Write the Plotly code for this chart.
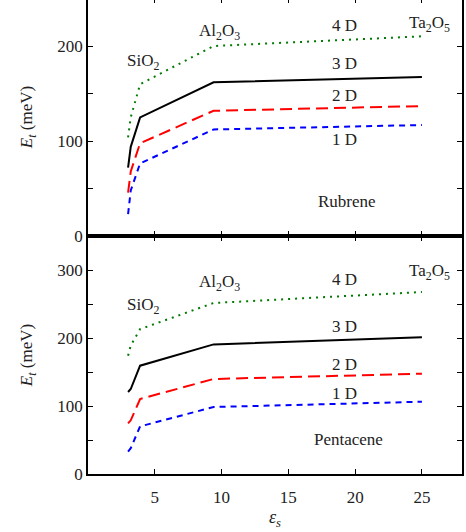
import plotly.graph_objects as go

eps = [3.0, 3.2, 3.9, 9.4, 25.0]

rub_1D = [23, 48, 76.5, 112.3, 117]
rub_2D = [45.6, 68, 97.8, 132, 137]
rub_3D = [72, 94, 125, 162, 167.5]
rub_4D = [104, 125, 160, 200.3, 210.5]

pen_1D = [33, 38, 70, 98.5, 106.3]
pen_2D = [74.4, 79, 110.3, 139.7, 147.5]
pen_3D = [120.6, 125, 159.3, 190.6, 201]
pen_4D = [174, 189, 213, 251.5, 267.6]

series_names = ["1 D", "2 D", "3 D", "4 D"]
colors = ["#0000ff", "#ff0000", "#000000", "#007a00"]
dashes = ["6px,5px", "12px,6px", "solid", "2px,5px"]

FONT = "Liberation Serif, Times New Roman, serif"
TXT = "#222"

fig = go.Figure()

for vals, c, d, n in zip([rub_1D, rub_2D, rub_3D, rub_4D], colors, dashes, series_names):
    fig.add_trace(go.Scatter(x=eps, y=vals, mode="lines", name=n,
                             line=dict(color=c, dash=d, width=2), xaxis="x", yaxis="y"))
for vals, c, d, n in zip([pen_1D, pen_2D, pen_3D, pen_4D], colors, dashes, series_names):
    fig.add_trace(go.Scatter(x=eps, y=vals, mode="lines", name=n,
                             line=dict(color=c, dash=d, width=2), xaxis="x2", yaxis="y2"))

axis_common = dict(showline=True, linecolor="black", linewidth=1.5, mirror="ticks",
                   ticks="inside", ticklen=5, tickcolor="black", showgrid=False,
                   zeroline=False, tickfont=dict(family=FONT, size=17, color=TXT))

xticks = [5, 10, 15, 20, 25]
ytick_top = [0, 50, 100, 150, 200, 250]
ytick_top_text = ["0", "", "100", "", "200", ""]
ytick_bot = [0, 50, 100, 150, 200, 250, 300]
ytick_bot_text = ["0", "", "100", "", "200", "", "300"]

ytitle = dict(text="<i>E<sub>t</sub></i> (meV)", font=dict(family=FONT, size=17, color=TXT), standoff=20)

fig.update_layout(
    width=466, height=538,
    margin=dict(l=88, r=2, t=4, b=58),
    paper_bgcolor="white", plot_bgcolor="white",
    showlegend=False,
    font=dict(family=FONT, size=17, color=TXT),
    xaxis=dict(domain=[0, 1], range=[0, 28], anchor="y", tickvals=xticks,
               showticklabels=False, **axis_common),
    yaxis=dict(domain=[0.5, 1], range=[0, 250.9], anchor="x", tickvals=ytick_top,
               ticktext=ytick_top_text, title=ytitle, **axis_common),
    xaxis2=dict(domain=[0, 1], range=[0, 28], anchor="y2", tickvals=xticks,
                ticklabelstandoff=7,
                title=dict(text="<i>ε<sub>s</sub></i>", font=dict(family=FONT, size=18, color=TXT), standoff=1),
                **axis_common),
    yaxis2=dict(domain=[0, 0.5], range=[0, 350], anchor="x2", tickvals=ytick_bot,
                ticktext=ytick_bot_text, title=ytitle, **axis_common),
)

def ann(x, y, text, xref, yref, size=17):
    fig.add_annotation(x=x, y=y, text=text, xref=xref, yref=yref, showarrow=False,
                       font=dict(family=FONT, size=size, color=TXT))

# top panel (Rubrene)
ann(4.1, 183.5, "SiO<sub>2</sub>", "x", "y")
ann(9.85, 214.7, "Al<sub>2</sub>O<sub>3</sub>", "x", "y")
ann(25.6, 223, "Ta<sub>2</sub>O<sub>5</sub>", "x", "y")
ann(19.2, 222, "4 D", "x", "y")
ann(19.2, 182, "3 D", "x", "y")
ann(19.2, 148.4, "2 D", "x", "y")
ann(19.2, 101.8, "1 D", "x", "y")
ann(19.4, 36.1, "Rubrene", "x", "y")

# bottom panel (Pentacene)
ann(4.1, 246.6, "SiO<sub>2</sub>", "x2", "y2")
ann(9.85, 280.8, "Al<sub>2</sub>O<sub>3</sub>", "x2", "y2")
ann(25.6, 297, "Ta<sub>2</sub>O<sub>5</sub>", "x2", "y2")
ann(19.2, 285.7, "4 D", "x2", "y2")
ann(19.2, 216.2, "3 D", "x2", "y2")
ann(19.2, 161, "2 D", "x2", "y2")
ann(19.2, 118.4, "1 D", "x2", "y2")
ann(19.5, 51.4, "Pentacene", "x2", "y2")

fig.write_html("out.html", config={"displayModeBar": False},
               post_script="document.body.style.margin='-6px 0 0 0';document.body.style.overflow='hidden';")
